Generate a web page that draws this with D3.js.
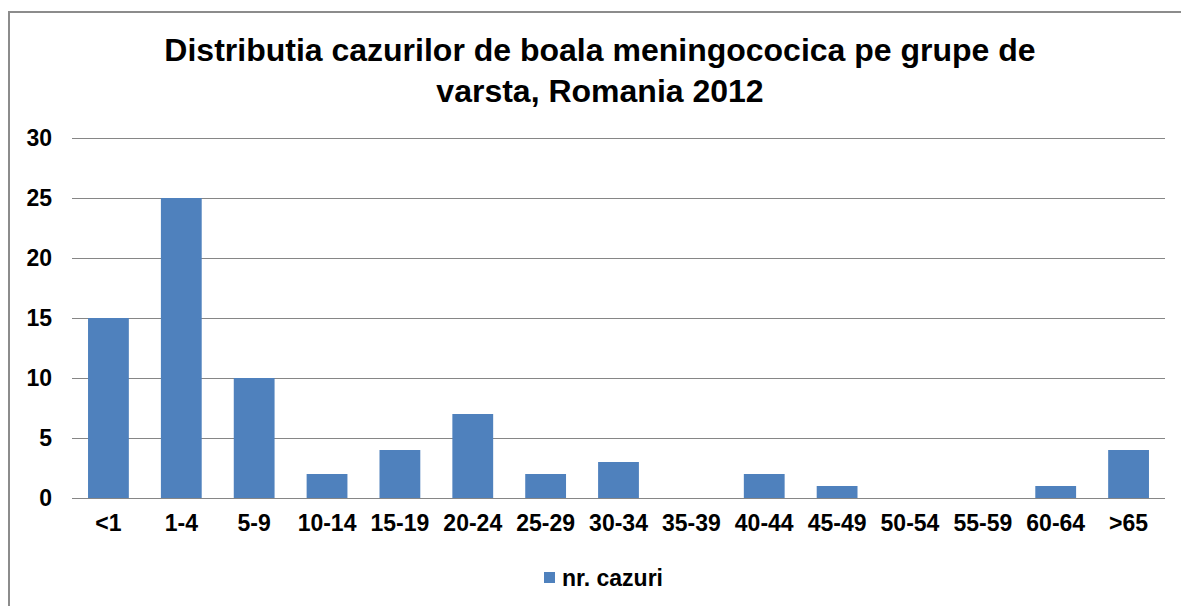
<!DOCTYPE html>
<meta charset="utf-8">
<head>
  <title>Distributia cazurilor de boala meningococica</title>
</head>
<style>
  body { margin: 0; background: #fff; }
  text { font-family: "Liberation Sans", Arial, sans-serif; font-weight: bold; fill: #000; }
</style>

<script src="https://d3js.org/d3.v7.min.js"></script>

<div id="my_dataviz"></div>

<script>
  // data
  var grupe = ["<1", "1-4", "5-9", "10-14", "15-19", "20-24", "25-29", "30-34",
               "35-39", "40-44", "45-49", "50-54", "55-59", "60-64", ">65"];
  var cazuri = [15, 25, 10, 2, 4, 7, 2, 3, 0, 2, 1, 0, 0, 1, 4];
  var yTicks = [0, 5, 10, 15, 20, 25, 30];
  var titleLines = ["Distributia cazurilor de boala meningococica pe grupe de",
                    "varsta, Romania 2012"];
  var seriesName = "nr. cazuri";

  var W = 1181, H = 606;
  var margin = { top: 138, right: 16, bottom: 108, left: 72 },
    width = W - margin.left - margin.right,
    height = H - margin.top - margin.bottom;

  var root = d3.select("#my_dataviz")
    .append("svg")
    .attr("width", W)
    .attr("height", H);

  // outer chart frame
  root.append("path")
    .attr("d", "M9," + H + "V12H" + W)
    .attr("fill", "none")
    .attr("stroke", "#8c8c8c")
    .attr("stroke-width", 2);

  // title
  root.append("text")
    .attr("text-anchor", "middle")
    .style("font-size", "32px")
    .selectAll("tspan")
    .data(titleLines)
    .enter().append("tspan")
    .attr("x", 600)
    .attr("y", function(d, i) { return 61 + i * 41; })
    .text(function(d) { return d; });

  var svg = root.append("g")
    .attr("transform", "translate(" + margin.left + "," + margin.top + ")");

  var x = d3.scaleBand()
    .domain(grupe)
    .range([0, width])
    .paddingInner(0.44)
    .paddingOuter(0.22);

  var y = d3.scaleLinear()
    .domain([0, 30])
    .range([height, 0]);

  // gridlines
  svg.append("g")
    .selectAll("line")
    .data(yTicks)
    .enter().append("line")
    .attr("x1", 0)
    .attr("x2", width)
    .attr("y1", function(d) { return Math.round(y(d)) + 0.5; })
    .attr("y2", function(d) { return Math.round(y(d)) + 0.5; })
    .attr("stroke", "#868686")
    .attr("stroke-width", 1);

  // Y axis labels
  var yAxis = svg.append("g")
    .call(d3.axisLeft(y).tickValues(yTicks).tickSize(0).tickPadding(20));
  yAxis.select(".domain").remove();
  yAxis.selectAll("text").style("font-size", "23px");

  // bars
  svg.selectAll(".bar")
    .data(cazuri)
    .enter().append("rect")
    .attr("class", "bar")
    .attr("x", function(d, i) { return x(grupe[i]); })
    .attr("width", x.bandwidth())
    .attr("y", function(d) { return y(d); })
    .attr("height", function(d) { return height - y(d); })
    .attr("fill", "#4f81bd");

  // X axis
  var xAxis = svg.append("g")
    .attr("transform", "translate(0," + height + ")")
    .call(d3.axisBottom(x).tickSize(0).tickPadding(17));
  xAxis.select(".domain").remove();
  xAxis.selectAll("text").style("font-size", "23px");

  // legend
  var legend = root.append("g")
    .attr("transform", "translate(544,572)");
  legend.append("rect")
    .attr("width", 11)
    .attr("height", 11)
    .attr("fill", "#4f81bd");
  legend.append("text")
    .attr("x", 18)
    .attr("y", 14)
    .style("font-size", "23px")
    .text(seriesName);
</script>
